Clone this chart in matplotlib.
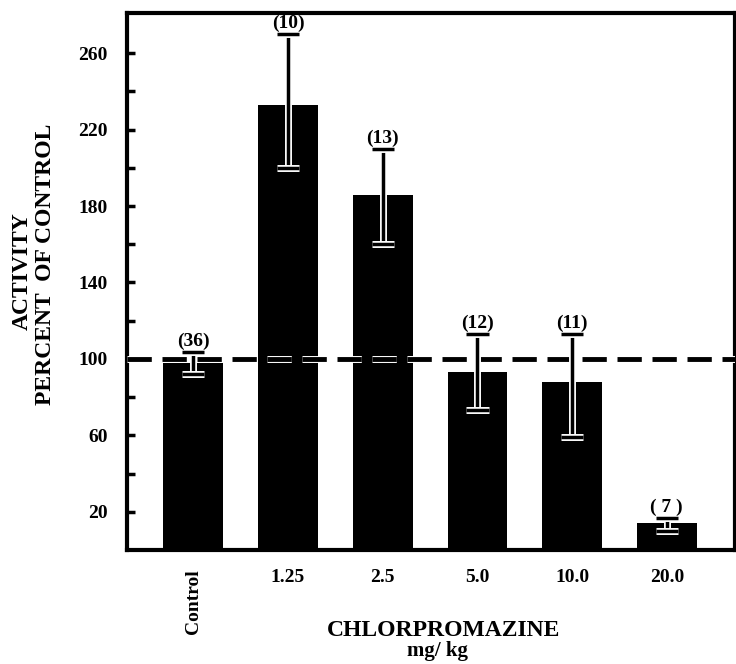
import matplotlib
matplotlib.use("Agg")
import matplotlib.pyplot as plt
import matplotlib.patheffects as pe

# data
doses = ["Control", "1.25", "2.5", "5.0", "10.0", "20.0"]
activity = [98, 233, 186, 93, 88, 14]
err_top = [103.5, 270, 210, 113, 113, 17]
err_bottom = [92, 200, 160, 73, 59, 10]
n_animals = ["(36)", "(10)", "(13)", "(12)", "(11)", "( 7 )"]

font = "Liberation Serif"
plt.rcParams["font.family"] = font
plt.rcParams["font.weight"] = "bold"

fig = plt.figure(figsize=(7.36, 6.64), dpi=100)
ax = fig.add_axes([0.1726, 0.1717, 0.826, 0.8087])

x = list(range(len(doses)))
ax.bar(x, activity, width=0.63, color="black", zorder=2)

white_edge = [pe.Stroke(linewidth=5, foreground="white"), pe.Normal()]

# reference line at 100 %
ax.axhline(100, color="black", lw=3.5, dashes=(5, 2.2), zorder=3,
           path_effects=white_edge)

lower = [a - b for a, b in zip(activity, err_bottom)]
upper = [t - a for a, t in zip(activity, err_top)]
eb = ax.errorbar(x, activity, yerr=[lower, upper], fmt="none", ecolor="black",
                 elinewidth=2.5, capsize=8, capthick=2.5, zorder=4)
for cap in eb.lines[1]:
    cap.set_path_effects(white_edge)
for col in eb.lines[2]:
    col.set_path_effects(white_edge)

for xi, t, lab in zip(x, err_top, n_animals):
    ax.text(xi, t + 1.0, lab, ha="center", va="bottom", fontsize=14,
            fontweight="bold", zorder=5)

ax.set_xlim(-0.7, 5.72)
ax.set_ylim(0, 281)

ax.set_yticks(range(20, 261, 20))
ax.set_yticklabels([str(v) if (v - 20) % 40 == 0 else "" for v in range(20, 261, 20)],
                   fontsize=14, fontweight="bold")
ax.tick_params(axis="y", direction="in", length=6, width=2.5, pad=14)

ax.set_xticks(x)
ax.set_xticklabels(doses, fontsize=14, fontweight="bold")
ax.tick_params(axis="x", length=0, pad=14)
ax.get_xticklabels()[0].set_rotation(90)
ax.get_xticklabels()[0].set_va("top")

for s in ax.spines.values():
    s.set_linewidth(3)

fig.text(0.030, 0.592, "ACTIVITY", rotation=90, ha="center", va="center",
         fontsize=17, fontweight="bold")
fig.text(0.062, 0.602, "PERCENT  OF CONTROL", rotation=90, ha="center",
         va="center", fontsize=17, fontweight="bold")
fig.text(0.602, 0.051, "CHLORPROMAZINE", ha="center", va="center",
         fontsize=17, fontweight="bold")
fig.text(0.594, 0.02, "mg/ kg", ha="center", va="center",
         fontsize=15, fontweight="bold")

fig.savefig("out.png", dpi=100)
